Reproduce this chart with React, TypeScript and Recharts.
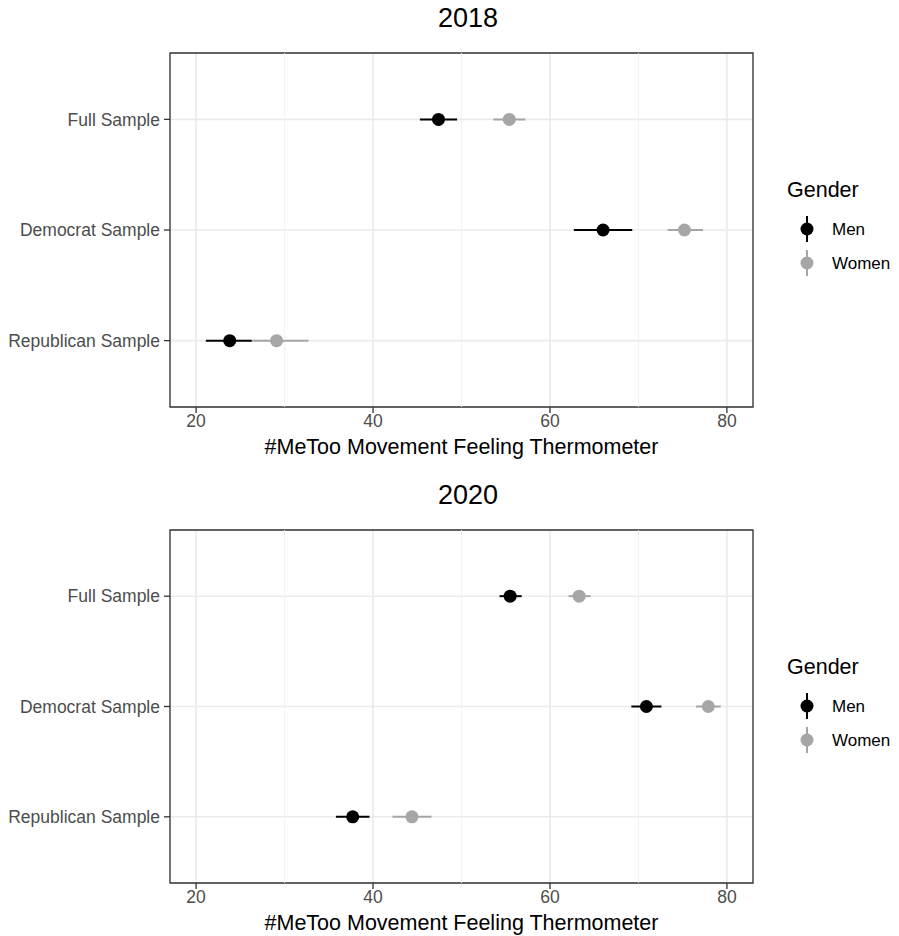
import React from "react";
import {
  ScatterChart,
  Scatter,
  XAxis,
  YAxis,
  CartesianGrid,
  ErrorBar,
  ReferenceLine,
  ReferenceArea,
  Label,
} from "recharts";

const categories = ["Full Sample", "Democrat Sample", "Republican Sample"];

const men2018 = [47.4, 66.0, 23.8];
const men2018Lo = [45.3, 62.7, 21.1];
const men2018Hi = [49.5, 69.3, 26.3];
const women2018 = [55.4, 75.2, 29.1];
const women2018Lo = [53.6, 73.3, 26.3];
const women2018Hi = [57.2, 77.3, 32.7];

const men2020 = [55.5, 70.9, 37.7];
const men2020Lo = [54.3, 69.2, 35.8];
const men2020Hi = [56.8, 72.6, 39.6];
const women2020 = [63.3, 77.9, 44.4];
const women2020Lo = [62.1, 76.5, 42.2];
const women2020Hi = [64.6, 79.3, 46.6];

const xTicks = [20, 40, 60, 80];
const xMinor = [30, 50, 70];
const xDomain = [17.05, 82.95];
const yDomain = [-0.6, 2.6];

const MEN_COLOR = "#000000";
const WOMEN_COLOR = "#a6a6a6";
const FONT = '"Liberation Sans", Arial, Helvetica, sans-serif';

function toPoints(mean: number[], lo: number[], hi: number[]) {
  return mean.map((m, i) => ({
    x: m,
    y: i,
    err: [m - lo[i], hi[i] - m],
  }));
}

function dot(color: string) {
  return (props: any) => (
    <circle cx={props.cx} cy={props.cy} r={6.5} fill={color} />
  );
}

interface PanelProps {
  title: string;
  top: number;
  height: number;
  axisHeight: number;
  labelOffset: number;
  men: { x: number; y: number; err: number[] }[];
  women: { x: number; y: number; err: number[] }[];
}

function Panel({ title, top, height, axisHeight, labelOffset, men, women }: PanelProps) {
  return (
    <div style={{ position: "absolute", left: 0, top, width: 899, height }}>
      <div
        style={{
          position: "absolute",
          left: 368,
          width: 200,
          top: 2,
          textAlign: "center",
          fontSize: 27,
          fontFamily: FONT,
          color: "#000",
          lineHeight: "32px",
        }}
      >
        {title}
      </div>
      <ScatterChart
        width={899}
        height={height}
        margin={{ top: 53, right: 146, bottom: 0, left: 0 }}
        style={{ fontFamily: FONT }}
      >
        <CartesianGrid stroke="#ebebeb" strokeWidth={1.6} />
        {xMinor.map((v) => (
          <ReferenceLine key={v} x={v} stroke="#f0f0f0" strokeWidth={0.9} />
        ))}
        <XAxis
          type="number"
          dataKey="x"
          domain={xDomain}
          ticks={xTicks}
          allowDataOverflow
          height={axisHeight}
          axisLine={false}
          tickLine={{ stroke: "#333333", strokeWidth: 1.3 }}
          tickSize={6}
          tickMargin={2}
          tick={{ fill: "#4d4d4d", fontSize: 17.5, fontFamily: FONT }}
        >
          <Label
            value="#MeToo Movement Feeling Thermometer"
            position="insideBottom"
            offset={labelOffset}
            fill="#000"
            fontSize={21.5}
            fontFamily={FONT}
          />
        </XAxis>
        <YAxis
          type="number"
          dataKey="y"
          domain={yDomain}
          ticks={[0, 1, 2]}
          reversed
          allowDataOverflow
          width={170}
          axisLine={false}
          tickLine={{ stroke: "#333333", strokeWidth: 1.3 }}
          tickSize={6}
          tickMargin={4}
          tickFormatter={(v: number) => categories[v]}
          tick={{ fill: "#4d4d4d", fontSize: 17.5, fontFamily: FONT }}
        />
        <Scatter
          name="Men"
          data={men}
          fill={MEN_COLOR}
          shape={dot(MEN_COLOR)}
          isAnimationActive={false}
        >
          <ErrorBar
            dataKey="err"
            direction="x"
            width={0}
            stroke={MEN_COLOR}
            strokeWidth={2}
            isAnimationActive={false}
          />
        </Scatter>
        <Scatter
          name="Women"
          data={women}
          fill={WOMEN_COLOR}
          shape={dot(WOMEN_COLOR)}
          isAnimationActive={false}
        >
          <ErrorBar
            dataKey="err"
            direction="x"
            width={0}
            stroke={WOMEN_COLOR}
            strokeWidth={2}
            isAnimationActive={false}
          />
        </Scatter>
        <ReferenceArea
          x1={xDomain[0]}
          x2={xDomain[1]}
          y1={yDomain[0]}
          y2={yDomain[1]}
          fill="none"
          fillOpacity={0}
          stroke="#333333"
          strokeWidth={1.3}
          ifOverflow="visible"
        />
      </ScatterChart>
      <svg
        style={{ position: "absolute", left: 770, top: 170 }}
        width={129}
        height={110}
        fontFamily={FONT}
      >
        <text x={17} y={27} fontSize={21.5} fill="#000">
          Gender
        </text>
        <line x1={37} x2={37} y1={46} y2={72} stroke={MEN_COLOR} strokeWidth={2} />
        <circle cx={37} cy={59} r={6.5} fill={MEN_COLOR} />
        <text x={62} y={65} fontSize={17} fill="#000">
          Men
        </text>
        <line x1={37} x2={37} y1={80} y2={106} stroke={WOMEN_COLOR} strokeWidth={2} />
        <circle cx={37} cy={93} r={6.5} fill={WOMEN_COLOR} />
        <text x={62} y={99} fontSize={17} fill="#000">
          Women
        </text>
      </svg>
    </div>
  );
}

export default function App() {
  return (
    <div
      style={{
        position: "absolute",
        left: 0,
        top: 0,
        width: 899,
        height: 936,
        background: "#fff",
        overflow: "hidden",
      }}
    >
      <Panel
        title="2018"
        top={0}
        height={477}
        axisHeight={70}
        labelOffset={23}
        men={toPoints(men2018, men2018Lo, men2018Hi)}
        women={toPoints(women2018, women2018Lo, women2018Hi)}
      />
      <Panel
        title="2020"
        top={477}
        height={459}
        axisHeight={53}
        labelOffset={6}
        men={toPoints(men2020, men2020Lo, men2020Hi)}
        women={toPoints(women2020, women2020Lo, women2020Hi)}
      />
    </div>
  );
}
